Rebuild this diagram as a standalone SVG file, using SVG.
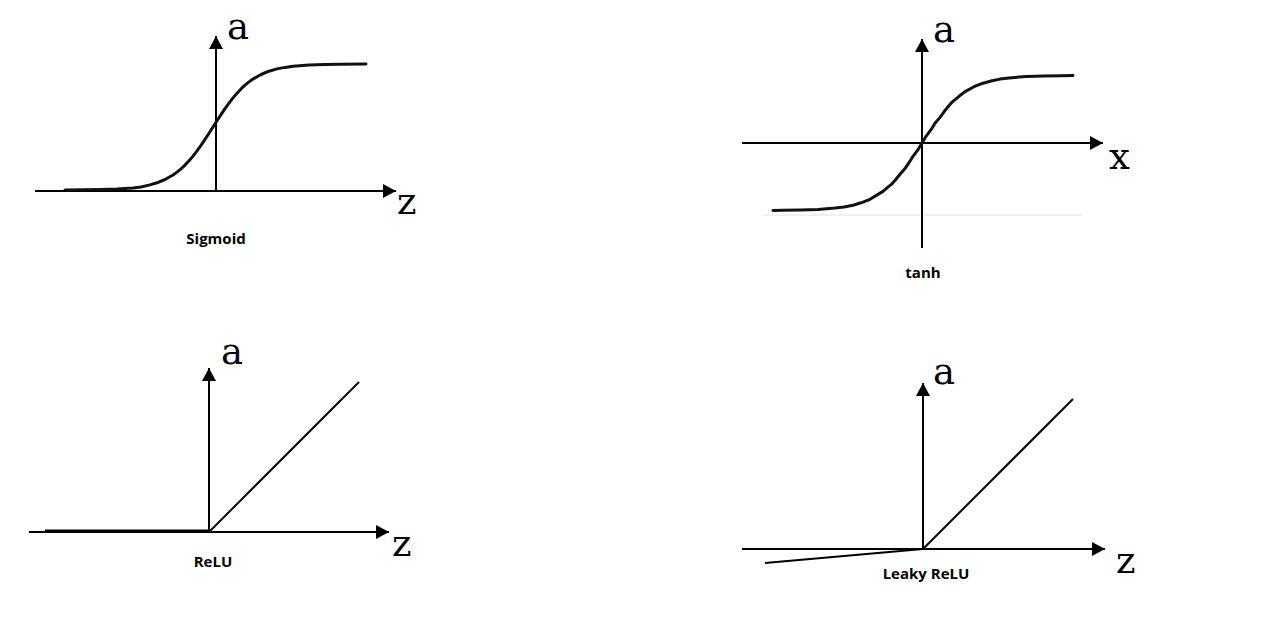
<svg xmlns="http://www.w3.org/2000/svg" width="1262" height="625" viewBox="0 0 1262 625">
<style>
.axis{stroke:#000;stroke-width:2;fill:none;marker-end:url(#arr)}
.curve{stroke:#111;stroke-width:3;fill:none;stroke-linejoin:round;stroke-linecap:round}
.lin{stroke:#000;stroke-width:2;fill:none}
.var{font-family:"DejaVu Serif","Liberation Serif",serif;font-size:37px;fill:#000}
.cap{font-family:"Open Sans","Noto Sans",sans-serif;font-size:15px;font-weight:bold;fill:#000;text-anchor:middle}
</style>
<defs>
<marker id="arr" markerUnits="userSpaceOnUse" markerWidth="14" markerHeight="14" refX="13" refY="7" orient="auto">
<path d="M0,0 L13,7 L0,14 z" fill="#000"/>
</marker>
</defs>
<rect width="1262" height="625" fill="#fff"/>
<g id="connectors">
<line class="axis" x1="35" y1="191" x2="396" y2="191"/>
<line class="axis" x1="216" y1="191" x2="216" y2="36"/>
<line x1="763" y1="215" x2="1082" y2="215" stroke="#e2e2e2" stroke-width="1"/>
<line class="axis" x1="742" y1="143" x2="1103" y2="143"/>
<line class="axis" x1="922" y1="248" x2="922" y2="39"/>
<line class="axis" x1="29" y1="532" x2="389" y2="532"/>
<line class="axis" x1="209" y1="532" x2="209" y2="368"/>
<line class="axis" x1="742" y1="549" x2="1105" y2="549"/>
<line class="axis" x1="923" y1="549" x2="923" y2="383"/>
</g>
<g id="sigmoid">
<polyline class="curve" points="65,189.9 85,189.8 101,189.5 117,189 133,188 141,187 149,185.1 157,182.8 165,179.5 173,175 177,172.1 181,168.8 185,165.1 189,160.8 193,156.1 197,150.9 201,145.4 205,139.4 209,133.3 213,127 217,120.7 221,114.6 225,108.7 229,103.1 233,97.9 237,93.2 241,88.9 245,85.2 249,81.9 253,79 261,74.5 269,71.2 277,68.9 285,67.4 293,66.3 309,65 325,64.5 341,64.2 366,64.1"/>
<text class="var" x="227" y="39">a</text>
<text class="var" x="397" y="214">z</text>
<text class="cap" x="216" y="244">Sigmoid</text>
</g>
<g id="tanh">
<polyline class="curve" points="773,210.4 783,210.3 800,210 818,209.4 835,208.1 844,207 853,205.2 861,202.8 870,199.3 878,194.4 883,191.4 887,187.8 892,183.8 896,179.3 900,174.2 905,168.6 909,162.7 913,156.3 918,149.7 922,143 926,136.3 931,129.7 935,123.3 940,117.4 944,111.8 948,106.8 952,102.2 957,98.2 961,94.7 965,91.6 974,86.7 983,83.2 992,80.8 1000,79.1 1009,77.9 1026,76.6 1044,76 1061,75.7 1073,75.6"/>
<text class="var" x="933" y="42">a</text>
<text class="var" x="1109" y="169">x</text>
<text class="cap" x="923" y="278">tanh</text>
</g>
<g id="relu">
<line x1="45" y1="531" x2="209" y2="531" stroke="#000" stroke-width="3"/>
<line class="lin" x1="209" y1="532" x2="359" y2="382"/>
<text class="var" x="221" y="364">a</text>
<text class="var" x="392" y="556">z</text>
<text class="cap" x="213" y="567">ReLU</text>
</g>
<g id="leaky-relu">
<line class="lin" x1="765" y1="563" x2="923" y2="549"/>
<line class="lin" x1="923" y1="549" x2="1073" y2="399"/>
<text class="var" x="933" y="384">a</text>
<text class="var" x="1116" y="573">z</text>
<text class="cap" x="926" y="579">Leaky ReLU</text>
</g>
</svg>
